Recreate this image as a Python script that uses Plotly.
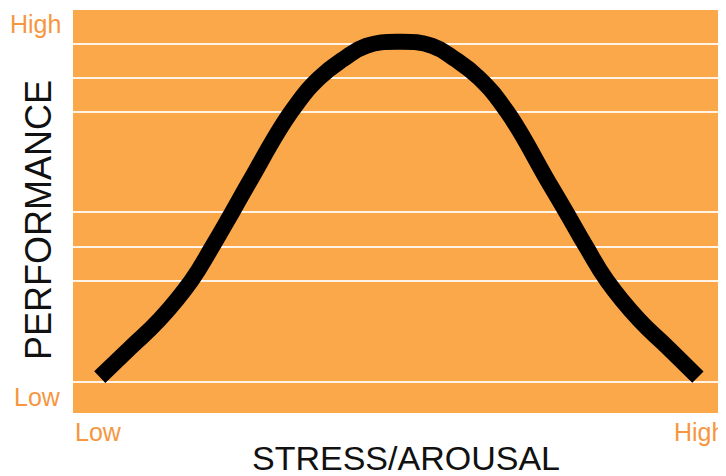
import plotly.graph_objects as go

# Curve (stress 0-100, performance 0-100)
stress = [4.1, 8.9, 13.2, 18.1, 21.3, 24.4, 27.1, 33.4, 37.7, 41.4, 44.9, 49.9,
          55.0, 58.5, 62.2, 66.5, 72.7, 75.5, 78.6, 81.8, 86.7, 91.0, 95.7]
performance = [8.9, 16.4, 23.1, 32.8, 41.2, 49.9, 57.6, 74.7, 83.1, 87.8, 91.1, 92.1,
               91.1, 87.8, 83.1, 74.7, 57.6, 49.9, 41.2, 32.8, 23.1, 16.4, 8.9]

grid_levels = [7.7, 32.8, 41.2, 49.9, 74.6, 83.1, 91.6]

x_title = "STRESS/AROUSAL"
y_title = "PERFORMANCE"
low_label = "Low"
high_label = "High"

ORANGE_BG = "#FBA84B"
ORANGE_TXT = "#F7963F"
FONT = "Liberation Sans, Arial, sans-serif"

fig = go.Figure()
fig.add_trace(go.Scatter(
    x=stress, y=performance, mode="lines",
    line=dict(color="black", width=16, shape="spline", smoothing=1.3),
    hoverinfo="skip", showlegend=False,
))

# page body adds an 8px offset; figure sized so the plot lands where the reference has it
fig.update_layout(
    width=718, height=468,
    margin=dict(l=65, r=0, t=2, b=63),
    paper_bgcolor="white",
    plot_bgcolor=ORANGE_BG,
    xaxis=dict(range=[0, 100], showgrid=False, zeroline=False, showticklabels=False,
               ticks="", showline=False, fixedrange=True),
    yaxis=dict(range=[0, 100], tickmode="array", tickvals=grid_levels,
               showgrid=True, gridcolor="#FFF4E6", gridwidth=2,
               zeroline=False, showticklabels=False, ticks="", showline=False,
               fixedrange=True),
    font=dict(family=FONT),
)

ann_font = dict(family=FONT, size=25, color=ORANGE_TXT)
fig.add_annotation(text=high_label, xref="paper", yref="paper", x=-0.0153, y=0.966,
                   xanchor="right", yanchor="middle", showarrow=False, font=ann_font)
fig.add_annotation(text=low_label, xref="paper", yref="paper", x=-0.0153, y=0.04,
                   xanchor="right", yanchor="middle", showarrow=False, font=ann_font)
fig.add_annotation(text=low_label, xref="paper", yref="paper", x=0.0, y=-0.047,
                   xanchor="left", yanchor="middle", showarrow=False, font=ann_font)
fig.add_annotation(text=high_label, xref="paper", yref="paper", x=0.917, y=-0.047,
                   xanchor="left", yanchor="middle", showarrow=False, font=ann_font)

fig.add_annotation(text=x_title, xref="paper", yref="paper", x=0.51, y=-0.112,
                   xanchor="center", yanchor="middle", showarrow=False,
                   font=dict(family=FONT, size=34, color="#111111"))
fig.add_annotation(text=y_title, xref="paper", yref="paper", x=-0.053, y=0.48,
                   xanchor="center", yanchor="middle", textangle=-90, showarrow=False,
                   font=dict(family=FONT, size=36, color="#111111"))

fig.write_html("out.html")
